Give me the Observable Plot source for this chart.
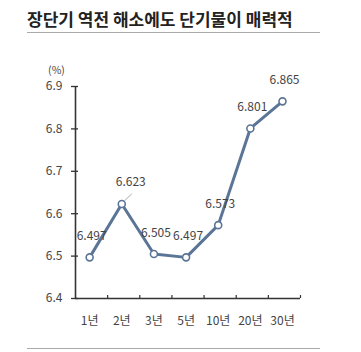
<!DOCTYPE html>
<html>
<head>
<meta charset="utf-8">
<script src="https://cdn.jsdelivr.net/npm/d3@7"></script>
<script src="https://cdn.jsdelivr.net/npm/@observablehq/plot@0.6"></script>
<style>
  html, body { margin: 0; padding: 0; background: #fff; }
  #wrap { position: relative; width: 361px; height: 352px; font-family: "Noto Sans CJK KR", "Noto Sans", sans-serif; }
  #title { position: absolute; left: 27px; top: 6px; font-size: 17px; font-weight: bold; color: #222; white-space: nowrap; }
  .rule { position: absolute; left: 27px; width: 293px; height: 0; border-top: 1.5px solid #aaa; }
  #chart { position: absolute; left: 0; top: 0; }
</style>
</head>
<body>
<div id="wrap">
  <div id="chart"></div>
  <div id="title">장단기 역전 해소에도 단기물이 매력적</div>
  <div class="rule" style="top:32px"></div>
  <div class="rule" style="top:348px"></div>
</div>
<script>
const categories = ["1년", "2년", "3년", "5년", "10년", "20년", "30년"];
const values = [6.497, 6.623, 6.505, 6.497, 6.573, 6.801, 6.865];
const yTicks = [6.4, 6.5, 6.6, 6.7, 6.8, 6.9];
const unitLabel = "(%)";

const W = 361, H = 352;
const mL = 75, mR = 61, mT = 86, mB = 54;
const frameW = W - mL - mR, frameH = H - mT - mB;
const x0 = -0.44, x1 = categories.length - 0.44;
const boundaries = categories.map((d, i) => i + 0.56);
const data = categories.map((c, i) => ({i, c, v: values[i]}));
const lineColor = "#5b7596";
const textColor = "#444";

const chart = Plot.plot({
  width: W, height: H,
  marginLeft: mL, marginRight: mR, marginTop: mT, marginBottom: mB,
  x: {type: "linear", domain: [x0, x1], axis: null},
  y: {domain: [6.4, 6.9], axis: null},
  style: {fontFamily: '"Noto Sans CJK KR", "Noto Sans", sans-serif', background: "transparent"},
  marks: [
    Plot.ruleX([x0], {y1: 6.4, y2: 6.9, stroke: "#333", strokeWidth: 1.6}),
    Plot.ruleY([6.4], {x1: x0, x2: x1, stroke: "#333", strokeWidth: 1.6}),
    Plot.tickY(yTicks, {y: d => d, insetLeft: -4, insetRight: frameW - 3, stroke: "#333", strokeWidth: 1.3}),
    Plot.tickX(boundaries, {x: d => d, insetTop: frameH - 3, insetBottom: 0, stroke: "#333", strokeWidth: 1.2}),
    Plot.text(yTicks, {x: x0, y: d => d, text: d => d.toFixed(1), textAnchor: "end", dx: -13, fontSize: 12, fill: textColor}),
    Plot.text([unitLabel], {x: x0, y: 6.9, text: d => d, dx: -19, dy: -16, fontSize: 10.5, fill: textColor}),
    Plot.text(data, {x: "i", y: 6.4, text: "c", dy: 23, fontSize: 12, fill: textColor}),
    Plot.link(data.filter(d => d.i === 1), {x1: d => d.i + 0.08, y1: d => d.v + 0.007, x2: d => d.i + 0.31, y2: d => d.v + 0.024, stroke: "#aaa", strokeWidth: 1}),
    Plot.line(data, {x: "i", y: "v", stroke: lineColor, strokeWidth: 3}),
    Plot.dot(data, {x: "i", y: "v", r: 3.5, fill: "white", stroke: lineColor, strokeWidth: 1.6}),
    Plot.text(data.filter(d => d.i !== 1), {x: "i", y: "v", text: d => d.v.toFixed(3), dx: 2, dy: -21, fontSize: 12, fill: textColor}),
    Plot.text(data.filter(d => d.i === 1), {x: "i", y: "v", text: d => d.v.toFixed(3), dx: 9, dy: -22, fontSize: 12, fill: textColor})
  ]
});
document.getElementById("chart").appendChild(chart);
</script>
</body>
</html>
